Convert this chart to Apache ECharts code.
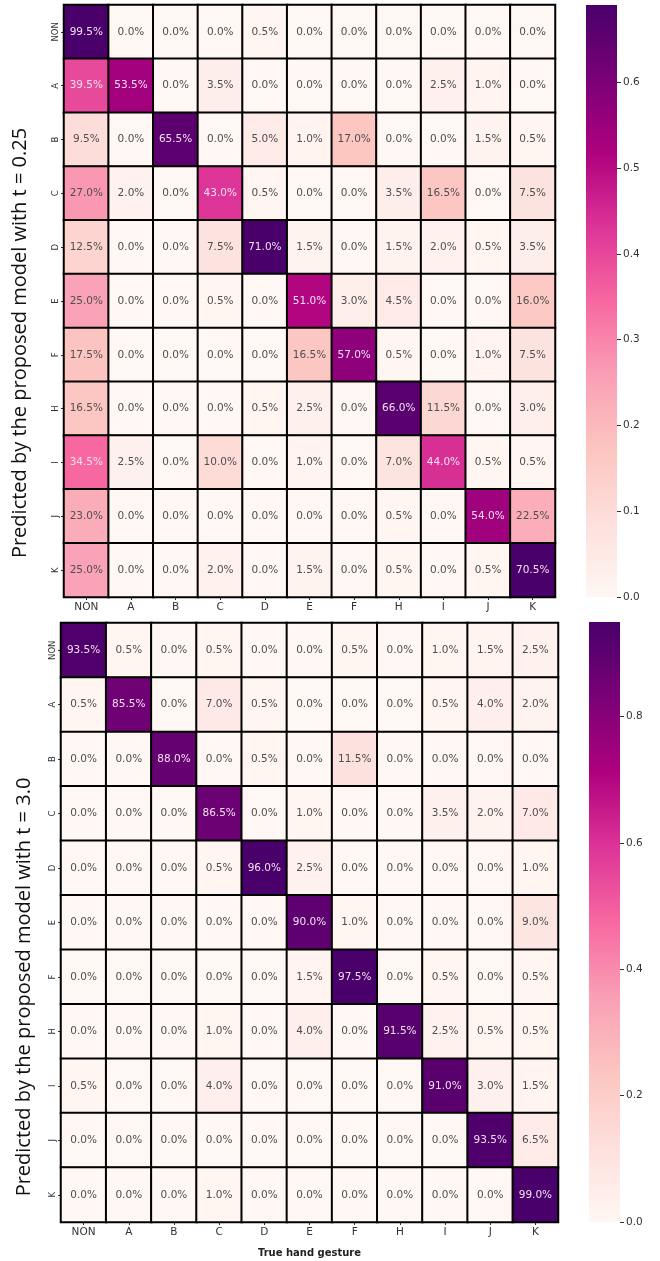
<!DOCTYPE html>
<html>
<head>
<meta charset="utf-8">
<script src="https://cdn.jsdelivr.net/npm/echarts@6/dist/echarts.min.js"></script>
<style>html,body{margin:0;padding:0;background:#fff;}#c{width:660px;height:1261px;}</style>
</head>
<body>
<div id="c"></div>
<script>
const categories = ['NON','A','B','C','D','E','F','H','I','J','K'];
// rows = predicted, columns = true, values in %
const topPct = [
  [99.5, 0.0, 0.0, 0.0, 0.5, 0.0, 0.0, 0.0, 0.0, 0.0, 0.0],
  [39.5,53.5, 0.0, 3.5, 0.0, 0.0, 0.0, 0.0, 2.5, 1.0, 0.0],
  [ 9.5, 0.0,65.5, 0.0, 5.0, 1.0,17.0, 0.0, 0.0, 1.5, 0.5],
  [27.0, 2.0, 0.0,43.0, 0.5, 0.0, 0.0, 3.5,16.5, 0.0, 7.5],
  [12.5, 0.0, 0.0, 7.5,71.0, 1.5, 0.0, 1.5, 2.0, 0.5, 3.5],
  [25.0, 0.0, 0.0, 0.5, 0.0,51.0, 3.0, 4.5, 0.0, 0.0,16.0],
  [17.5, 0.0, 0.0, 0.0, 0.0,16.5,57.0, 0.5, 0.0, 1.0, 7.5],
  [16.5, 0.0, 0.0, 0.0, 0.5, 2.5, 0.0,66.0,11.5, 0.0, 3.0],
  [34.5, 2.5, 0.0,10.0, 0.0, 1.0, 0.0, 7.0,44.0, 0.5, 0.5],
  [23.0, 0.0, 0.0, 0.0, 0.0, 0.0, 0.0, 0.5, 0.0,54.0,22.5],
  [25.0, 0.0, 0.0, 2.0, 0.0, 1.5, 0.0, 0.5, 0.0, 0.5,70.5]
];
const bottomPct = [
  [93.5, 0.5, 0.0, 0.5, 0.0, 0.0, 0.5, 0.0, 1.0, 1.5, 2.5],
  [ 0.5,85.5, 0.0, 7.0, 0.5, 0.0, 0.0, 0.0, 0.5, 4.0, 2.0],
  [ 0.0, 0.0,88.0, 0.0, 0.5, 0.0,11.5, 0.0, 0.0, 0.0, 0.0],
  [ 0.0, 0.0, 0.0,86.5, 0.0, 1.0, 0.0, 0.0, 3.5, 2.0, 7.0],
  [ 0.0, 0.0, 0.0, 0.5,96.0, 2.5, 0.0, 0.0, 0.0, 0.0, 1.0],
  [ 0.0, 0.0, 0.0, 0.0, 0.0,90.0, 1.0, 0.0, 0.0, 0.0, 9.0],
  [ 0.0, 0.0, 0.0, 0.0, 0.0, 1.5,97.5, 0.0, 0.5, 0.0, 0.5],
  [ 0.0, 0.0, 0.0, 1.0, 0.0, 4.0, 0.0,91.5, 2.5, 0.5, 0.5],
  [ 0.5, 0.0, 0.0, 4.0, 0.0, 0.0, 0.0, 0.0,91.0, 3.0, 1.5],
  [ 0.0, 0.0, 0.0, 0.0, 0.0, 0.0, 0.0, 0.0, 0.0,93.5, 6.5],
  [ 0.0, 0.0, 0.0, 1.0, 0.0, 0.0, 0.0, 0.0, 0.0, 0.0,99.0]
];
const topMax = 0.69;
const bottomMax = 0.95;
const topTickMax = 0.6, topTickStep = 0.1;
const bottomTickMax = 0.8, bottomTickStep = 0.2;
const topTitle = 'Predicted by the proposed model with t = 0.25';
const bottomTitle = 'Predicted by the proposed model with t = 3.0';
const xTitle = 'True hand gesture';
const RdPu = ['#fff7f3','#fde0dd','#fcc5c0','#fa9fb5','#f768a1','#dd3497','#ae017e','#7a0177','#49006a'];

function build(mat, vmax) {
  const out = [];
  mat.forEach((row, r) => row.forEach((v, c) => {
    const frac = v / 100;
    out.push({
      value: [c, r, frac],
      label: { color: (frac / vmax > 0.45) ? '#f3dff0' : '#4f4f4f' }
    });
  }));
  return out;
}

const chart = echarts.init(document.getElementById('c'), null, { renderer: 'canvas' });
const topBar = { x: 586, y: 5, w: 31, h: 592 };
const botBar = { x: 589, y: 622, w: 31, h: 600 };
const grids = [
  { left: 64, top: 5, width: 491, height: 592 },
  { left: 61, top: 623, width: 497, height: 599 },
  { left: topBar.x + topBar.w, top: topBar.y + topBar.h * (1 - topTickMax / topMax), width: 20, height: topBar.h * topTickMax / topMax },
  { left: botBar.x + botBar.w, top: botBar.y + botBar.h * (1 - bottomTickMax / bottomMax), width: 20, height: botBar.h * bottomTickMax / bottomMax }
];
const catX = (gi, withName) => ({
  type: 'category', gridIndex: gi, data: categories, position: 'bottom',
  axisLine: { show: false },
  axisTick: { show: true, alignWithLabel: true, length: 3, lineStyle: { color: '#333' } },
  axisLabel: { fontFamily: 'DejaVu Sans', fontSize: 10.5, color: '#333', margin: 5 },
  splitLine: { show: false },
  name: withName ? xTitle : '', nameLocation: 'middle', nameGap: 26,
  nameTextStyle: { fontFamily: 'DejaVu Sans', fontWeight: 'bold', fontSize: 10, color: '#222' }
});
const catY = (gi) => ({
  type: 'category', gridIndex: gi, data: categories, inverse: true,
  axisLine: { show: false },
  axisTick: { show: true, alignWithLabel: true, length: 3, lineStyle: { color: '#333' } },
  axisLabel: { fontFamily: 'DejaVu Sans', fontSize: 8.5, color: '#333', rotate: 90, margin: 4 },
  splitLine: { show: false }
});
const cbY = (gi, tmax, step) => ({
  type: 'value', gridIndex: gi, min: 0, max: tmax, interval: step, position: 'left',
  axisLine: { show: false },
  axisTick: { show: true, inside: true, length: 4, lineStyle: { color: '#333', width: 1 } },
  axisLabel: { inside: true, fontFamily: 'DejaVu Sans', fontSize: 10.5, color: '#333', margin: 6,
    formatter: v => v.toFixed(1) },
  splitLine: { show: false }
});
const hideX = (gi) => ({ type: 'value', gridIndex: gi, show: false });
const gradient = () => ({
  type: 'linear', x: 0, y: 1, x2: 0, y2: 0,
  colorStops: RdPu.map((c, i) => ({ offset: i / (RdPu.length - 1), color: c }))
});

chart.setOption({
  animation: false,
  backgroundColor: '#fff',
  grid: grids,
  xAxis: [catX(0, false), catX(1, true), hideX(2), hideX(3)],
  yAxis: [catY(0), catY(1), cbY(2, topTickMax, topTickStep), cbY(3, bottomTickMax, bottomTickStep)],
  visualMap: [
    { type: 'continuous', show: false, seriesIndex: 0, dimension: 2, min: 0, max: topMax, inRange: { color: RdPu } },
    { type: 'continuous', show: false, seriesIndex: 1, dimension: 2, min: 0, max: bottomMax, inRange: { color: RdPu } }
  ],
  series: [
    { type: 'heatmap', xAxisIndex: 0, yAxisIndex: 0, data: build(topPct, topMax),
      itemStyle: { borderColor: '#000', borderWidth: 2 },
      label: { show: true, fontFamily: 'DejaVu Sans', fontSize: 10.5, formatter: p => (p.value[2] * 100).toFixed(1) + '%' } },
    { type: 'heatmap', xAxisIndex: 1, yAxisIndex: 1, data: build(bottomPct, bottomMax),
      itemStyle: { borderColor: '#000', borderWidth: 2 },
      label: { show: true, fontFamily: 'DejaVu Sans', fontSize: 10.5, formatter: p => (p.value[2] * 100).toFixed(1) + '%' } }
  ],
  graphic: [
    { type: 'rect', z: -1, shape: { x: topBar.x, y: topBar.y, width: topBar.w, height: topBar.h }, style: { fill: gradient() } },
    { type: 'rect', z: -1, shape: { x: botBar.x, y: botBar.y, width: botBar.w, height: botBar.h }, style: { fill: gradient() } },
    { type: 'text', x: 20, y: 343, rotation: Math.PI / 2,
      style: { text: topTitle, fontFamily: 'Open Sans', fontSize: 20, fill: '#111', textAlign: 'center', textVerticalAlign: 'middle' } },
    { type: 'text', x: 24, y: 987, rotation: Math.PI / 2,
      style: { text: bottomTitle, fontFamily: 'Open Sans', fontSize: 20, fill: '#111', textAlign: 'center', textVerticalAlign: 'middle' } }
  ]
});
</script>
</body>
</html>
